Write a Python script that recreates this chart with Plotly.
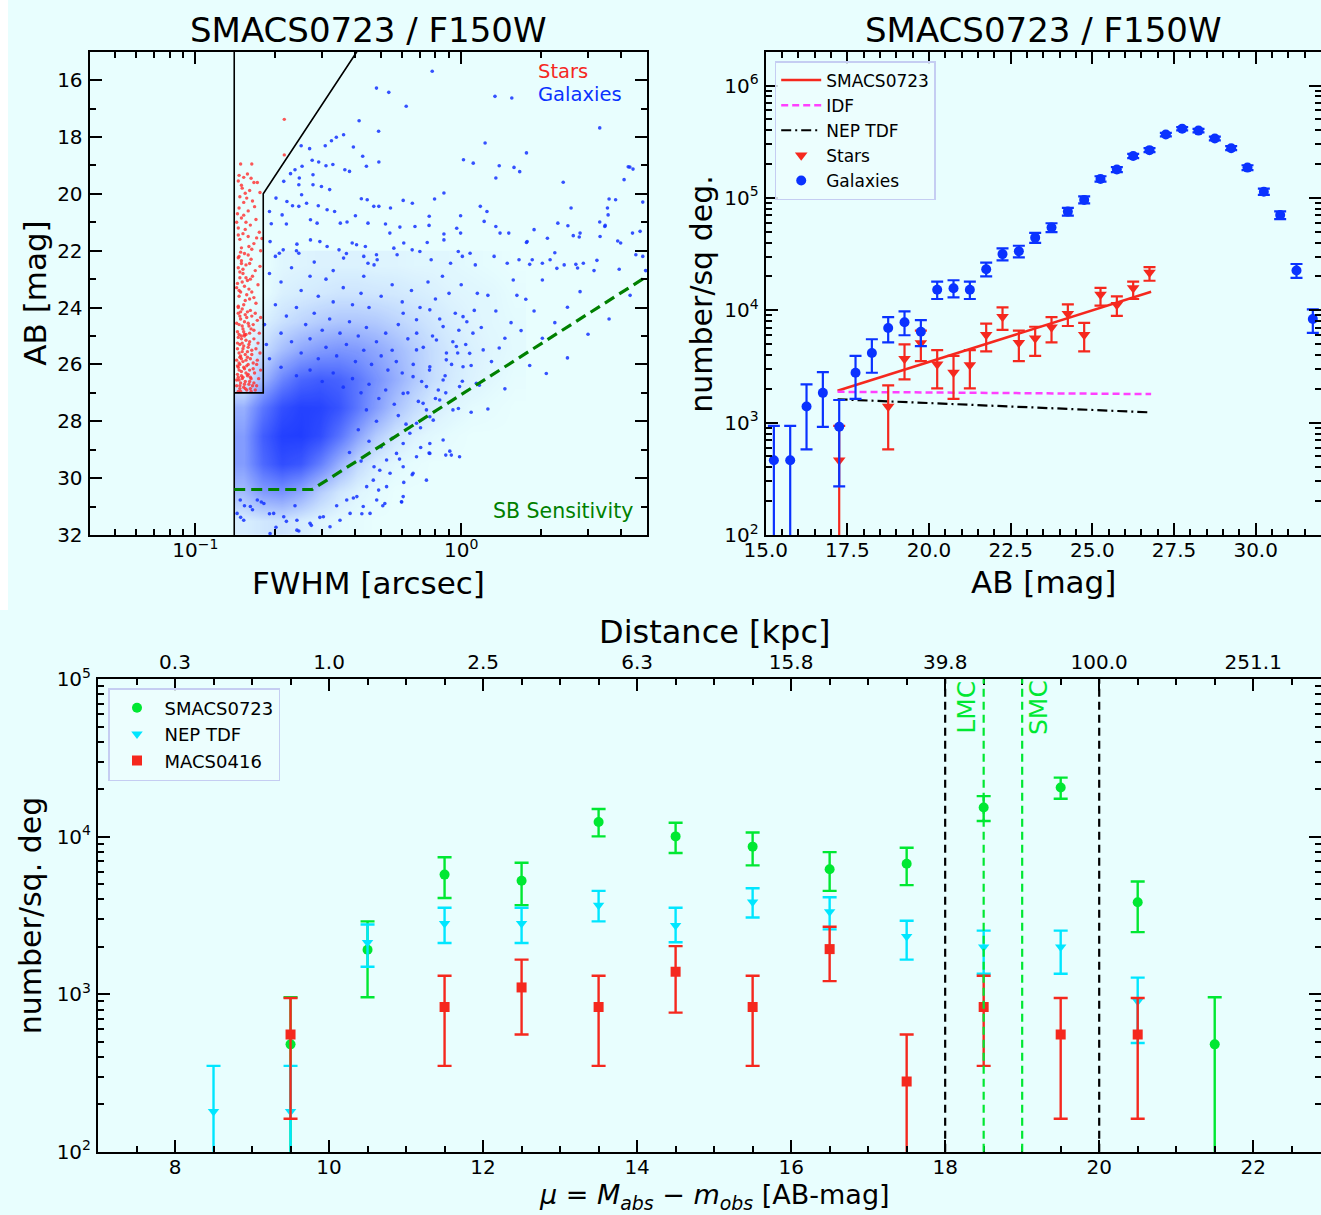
import numpy as np
import plotly.graph_objects as go

W, H = 1321, 1215
BG = "#e8fefe"
FONT = "DejaVu Sans"

# ---------------- Panel 1: FWHM vs AB mag ----------------
gal_pts = [
    (0.778,15.69),(0.48,16.28),(0.534,16.43),(0.621,16.92),(1.34,16.57),(1.55,16.63),(0.413,17.43),(0.489,17.80),
    (3.32,17.68),(0.361,17.92),(0.339,18.01),(0.325,18.13),(0.25,18.31),(0.269,18.41),(0.308,18.31),(0.393,18.35),
    (1.23,18.21),(1.76,18.56),(0.275,18.82),(0.291,18.88),(0.31,19.01),(0.329,18.97),(0.426,18.68),(0.49,18.88),
    (1.02,18.8),(1.11,18.92),(1.39,19.01),(1.58,19.07),(1.66,19.22),(4.31,19.06),(4.43,19.13),(0.252,19.03),
    (0.237,19.15),(0.228,19.29),(0.215,19.56),(0.246,19.44),(0.277,19.33),(0.365,19.15),(0.38,19.21),(0.44,19.03),
    (1.35,19.44),(2.42,19.59),(4.1,19.5),(0.245,19.68),(0.251,20.03),(0.277,19.68),(0.298,19.74),(0.32,19.85),
    (0.201,20.15),(0.19,20.62),(0.221,20.27),(0.232,20.42),(0.245,20.44),(0.262,20.33),(0.29,20.42),(0.313,20.56),
    (0.334,20.62),(0.212,20.74),(0.421,20.17),(0.443,20.21),(0.469,20.44),(0.49,20.44),(0.542,20.5),(0.605,20.23),
    (0.655,20.33),(0.794,20.18),(0.861,19.97),(1.18,20.44),(1.25,20.62),(0.758,20.79),(0.995,20.77),(2.59,20.5),
    (3.55,20.5),(3.6,20.18),(3.81,20.21),(3.57,20.74),(0.193,21.05),(0.22,21.06),(0.271,20.91),(0.287,21.03),
    (0.351,21.03),(0.372,20.99),(0.4,20.77),(0.446,21.03),(0.519,21.06),(0.539,21.38),(0.588,21.17),(0.67,21.15),
    (0.757,21.11),(0.861,21.41),(0.962,21.21),(0.995,21.38),(1.22,20.97),(1.35,21.15),(1.40,21.38),(1.51,21.38),
    (1.76,21.71),(1.88,21.26),(2.11,21.56),(2.31,21.03),(2.52,21.12),(2.64,21.47),(2.78,21.52),(3.32,20.99),
    (3.47,21.15),(3.33,21.5),(3.98,21.73),(4.71,21.32),(0.191,21.68),(0.207,22.09),(0.214,21.97),(0.241,21.77),
    (0.245,22.09),(0.271,21.62),(0.294,21.68),(0.313,21.85),(0.347,21.97),(0.361,22.26),(0.389,21.73),(0.404,21.79),
    (0.436,21.85),(0.43,22.2),(0.48,22.14),(0.446,22.44),(0.483,22.32),(0.558,21.91),(0.574,22.14),(0.608,21.73),
    (0.654,21.97),(0.699,22.03),(0.745,21.71),(0.771,22.32),(0.861,21.62),(0.912,22.44),(0.975,22.03),(1.01,22.2),
    (1.08,22.09),(1.13,22.5),(1.33,22.2),(1.49,22.44),(1.65,22.32),(1.77,21.68),(1.85,22.32),(2.02,22.44),
    (2.16,22.32),(2.44,22.5),(2.74,22.61),(2.88,22.44),(3.16,22.7),(3.93,22.65),(4.94,22.7),(4.54,22.14),
    (1.26,27.57),(1.39,25.42),(1.54,24.53),(1.75,23.71),(2.02,23.03),(2.29,22.62),(2.7,22.48),(3.24,22.34),
    (3.88,21.66),(4.41,21.38),(4.82,22.2),(3.48,21.11),(2.8,21.38),(2.25,22.07),(1.81,22.48),(1.57,23.03),
    (1.26,23.57),(1.35,24.12),(1.62,23.57),(1.88,24.12),(1.68,24.81),(1.46,25.08),(1.21,25.49),(1.09,26.04),
    (1.01,26.59),(1.17,26.73),(1.30,25.9),(0.875,27.0),(0.976,27.55),(0.785,27.96),(0.704,28.92),(0.757,29.12),
    (0.875,29.19),(0.906,29.05),(0.608,30.15),(0.597,30.84),(0.654,29.88),(0.489,30.42),(0.507,30.97),(0.423,31.25),
    (0.393,30.7),(0.34,30.97),(0.294,31.38),(0.273,31.66),(0.237,30.97),(0.22,31.52),(0.19,31.25),(0.177,30.84),
    (0.164,31.11),(0.153,30.97),(0.148,31.38),(0.245,31.86),(0.201,31.73),(2.09,26.32),(2.51,25.77),(3.0,24.94),
    (3.6,24.4),(4.32,23.57),(2.02,25.08),(1.81,26.04),(2.25,24.53),(2.51,23.99),(2.8,23.44),(1.46,26.86),
    (1.09,27.68),(0.703,28.23),(0.586,29.33),(4.25,19.05),(4.82,20.29),
    (0.19,22.8),(0.21,23.1),(0.23,22.6),(0.25,23.4),(0.27,22.9),(0.29,23.6),(0.31,23.0),(0.33,23.8),
    (0.36,23.3),(0.39,23.9),(0.42,23.5),(0.45,24.0),(0.2,23.9),(0.22,24.3),(0.24,24.0),(0.26,24.6),
    (0.28,24.2),(0.3,24.8),(0.32,24.4),(0.35,24.9),(0.38,24.5),(0.41,25.0),(0.44,24.7),(0.48,25.2),
    (0.52,24.9),(0.55,25.5),(0.5,23.6),(0.55,23.2),(0.6,23.8),(0.65,23.4),(0.7,24.0),(0.75,23.1),
    (0.8,23.7),(0.85,22.9),(0.9,23.5),(0.95,24.2),(1.0,23.2),(1.05,24.5),(0.182,24.6),(0.185,25.3),
    (0.19,25.8),(0.2,22.2),(0.24,22.0),(0.28,22.4),(0.33,22.7),(0.37,22.1),(0.43,22.9),(0.47,22.5),
    (0.605,24.20),(0.679,24.43),(0.762,24.08),(0.855,24.67),(1.016,24.32),(1.107,24.90),(0.959,25.37),(0.807,25.14),
    (0.679,25.49),(0.762,26.08),(0.879,25.84),(1.016,26.08),(1.076,25.61),(1.14,26.66),(0.986,26.78),(0.855,26.55),
    (0.74,26.78),(0.659,26.43),(0.605,27.02),(0.719,27.37),(0.83,27.25),(0.931,27.6),(0.762,27.84),(0.679,28.07),
    (0.641,28.42),(0.605,28.78),(0.571,29.13),(0.524,29.36),(0.494,29.72),(0.467,30.07),(0.441,30.3),(0.54,29.83),
    (0.605,29.6),(0.679,29.25),(0.762,28.78),(0.855,28.66),(0.986,29.25),(0.605,30.65),(0.524,30.3),(0.481,30.77),
    (0.428,31.0),(0.382,31.24),(0.35,31.48),(0.321,31.71),(0.303,31.36),(0.27,31.59),(0.241,31.48),(0.215,31.36),
    (0.197,31.24),(0.181,30.89),(0.171,30.77),(0.161,31.0),(0.152,31.48),(0.1475,30.77),(0.1435,31.24),(0.191,31.95),
    (0.241,31.83),(0.371,30.77),(0.405,30.65),(0.659,29.83),(0.762,29.13),(0.918,29.19),(0.74,30.07),(0.596,30.83),
    (0.454,31.24),(0.516,30.89),
    (0.58,24.6),(0.63,25.1),(0.68,24.9),(0.72,25.4),(0.78,25.0),(0.83,24.4),(0.88,25.6),(0.93,25.2),
    (0.98,24.8),(1.04,25.3),(1.12,24.1),(1.15,23.5),(1.19,24.7),(0.6,26.3),(0.66,26.0),(0.71,26.6),
    (0.76,26.2),(0.82,26.9),(0.87,26.4),(0.92,26.0),(0.97,25.6),(0.63,27.0),(0.69,27.3),(0.74,27.6),
    (0.8,27.2),(0.58,27.8),(0.62,28.1),(0.55,28.6),(0.5,28.9),(0.47,29.6),
    (0.21,24.9),(0.23,25.2),(0.25,25.6),(0.27,25.1),(0.29,25.8),(0.31,25.4),(0.34,25.7),(0.37,25.3),
    (0.4,25.9),(0.43,25.5),(0.46,26.0),(0.5,25.7),(0.53,26.2),(0.57,25.9),(0.21,26.1),(0.24,26.4),
    (0.27,26.2),(0.3,26.6),(0.33,26.3),(0.36,26.8),(0.39,26.5),(0.42,27.0),(0.45,26.7),(0.49,27.2),
    (0.52,26.9),(0.56,27.4),(0.44,27.6),(0.48,28.0),(0.41,28.3),(0.45,28.7),(0.38,29.1),(0.42,29.4),
]
gal_fwhm = [p[0] for p in gal_pts]
gal_mag = [p[1] for p in gal_pts]

star_pts = [
    (0.148,18.95),(0.163,18.95),(0.146,19.35),(0.152,19.42),(0.157,19.3),(0.166,19.6),(0.149,19.7),(0.145,19.55),
    (0.16,19.88),(0.171,19.6),(0.154,19.98),(0.147,20.1),(0.175,19.95),(0.162,19.45),(0.15,19.8),
    (0.152,20.3),(0.146,20.5),(0.158,20.6),(0.164,20.25),(0.149,20.85),(0.155,21.0),(0.145,21.2),(0.161,21.1),
    (0.169,20.9),(0.151,21.4),(0.147,21.6),(0.158,21.5),(0.166,21.75),(0.149,21.9),(0.154,21.25),(0.174,21.35),
    (0.144,20.7),(0.163,21.95),(0.148,22.05),(0.156,20.15),(0.17,21.55),(0.159,21.85),(0.145,21.45),(0.152,20.75),
    (0.167,20.45),(0.143,21.0),(0.176,22.0),(0.153,22.1),(0.146,22.2),(0.162,22.3),
    (0.149,22.35),(0.155,22.5),(0.145,22.6),(0.16,22.45),(0.168,22.7),(0.151,22.8),(0.147,22.95),(0.157,23.05),
    (0.164,22.9),(0.144,23.15),(0.153,23.25),(0.159,23.35),(0.148,23.45),(0.172,23.2),(0.146,23.6),(0.156,23.55),
    (0.166,23.65),(0.151,22.65),(0.145,22.25),(0.161,23.0),(0.15,23.1),(0.154,23.75),(0.143,23.3),(0.175,22.55),
    (0.158,22.15),(0.147,22.75),(0.163,23.45),(0.152,23.9),(0.169,23.85),(0.145,23.95),(0.149,22.45),(0.16,23.7),
    (0.155,22.95),(0.146,23.4),
    (0.15,24.05),(0.157,24.15),(0.145,24.2),(0.163,24.3),(0.148,24.4),(0.153,24.5),(0.171,24.45),(0.146,24.6),
    (0.159,24.65),(0.151,24.75),(0.144,24.85),(0.166,24.8),(0.155,24.95),(0.149,25.0),(0.161,24.1),(0.147,24.3),
    (0.154,24.25),(0.174,24.9),(0.158,24.55),(0.143,24.55),(0.152,24.85),(0.168,24.2),(0.146,24.95),(0.16,24.9),
    (0.15,24.65),(0.156,24.35),(0.165,24.6),(0.145,24.0),(0.162,24.75),(0.148,24.15),(0.176,24.35),(0.153,24.95),
    (0.145,25.05),(0.149,25.1),(0.155,25.15),(0.16,25.2),(0.166,25.1),(0.172,25.25),(0.147,25.3),(0.152,25.35),
    (0.158,25.4),(0.144,25.45),(0.163,25.5),(0.15,25.55),(0.169,25.45),(0.146,25.6),(0.154,25.65),(0.175,25.6),
    (0.148,25.7),(0.157,25.75),(0.161,25.8),(0.143,25.85),(0.151,25.9),(0.165,25.95),(0.147,26.0),(0.156,26.05),
    (0.17,26.0),(0.145,26.1),(0.153,26.15),(0.16,26.2),(0.149,26.25),(0.167,26.3),(0.144,26.35),(0.157,26.4),
    (0.151,26.45),(0.162,26.5),(0.146,26.55),(0.173,26.5),(0.154,26.6),(0.148,26.65),(0.159,26.7),(0.143,26.75),
    (0.164,26.75),(0.152,26.8),(0.147,26.85),(0.156,26.9),(0.161,26.85),(0.145,26.95),(0.168,26.9),(0.15,26.5),
    (0.155,26.3),(0.146,26.2),(0.158,26.0),(0.149,25.8),(0.163,25.65),(0.144,25.25),(0.153,25.0),(0.171,25.85),
    (0.147,26.75),(0.16,26.6),(0.152,26.1),(0.166,26.65),(0.145,26.45),(0.157,25.55),(0.15,25.25),(0.176,26.2),
    (0.148,26.95),(0.154,26.85),(0.162,26.95),(0.143,26.55),(0.151,25.45),(0.158,26.35),(0.146,25.95),(0.165,26.15),
    (0.149,26.4),(0.155,25.85),(0.17,26.75),(0.153,26.7),(0.144,26.05),(0.159,25.3),(0.147,25.75),(0.161,26.45),
    (0.216,17.38),(0.216,18.63),(0.178,21.57),
]
star_fwhm = [p[0] for p in star_pts]
star_mag = [p[1] for p in star_pts]

# estimated galaxy density (fraction of area covered) read from the dense core
dens_fwhm_edges = [0.14, 0.165, 0.195, 0.23, 0.27, 0.32, 0.375, 0.44, 0.52, 0.61, 0.72, 0.85, 1.0, 1.2, 1.45, 1.75]
dens_mag_edges = [22, 23, 24, 25, 26, 27, 28, 29, 30, 31, 32]
dens_grid = [
    [0, 0, 0.04, 0.05, 0.06, 0.06, 0.06, 0.05, 0.05, 0.04, 0.04, 0.03, 0.02, 0.01, 0],
    [0, 0, 0.07, 0.09, 0.11, 0.13, 0.13, 0.12, 0.11, 0.09, 0.07, 0.05, 0.04, 0.03, 0.01],
    [0, 0.07, 0.15, 0.21, 0.26, 0.29, 0.29, 0.27, 0.22, 0.17, 0.12, 0.08, 0.05, 0.03, 0.02],
    [0, 0.17, 0.33, 0.45, 0.52, 0.55, 0.52, 0.45, 0.36, 0.26, 0.17, 0.11, 0.07, 0.04, 0.02],
    [0, 0.36, 0.62, 0.78, 0.83, 0.80, 0.70, 0.56, 0.42, 0.28, 0.17, 0.10, 0.06, 0.03, 0.01],
    [0.40, 0.70, 0.90, 0.97, 0.96, 0.88, 0.70, 0.50, 0.31, 0.18, 0.09, 0.05, 0.02, 0.01, 0],
    [0.50, 0.83, 0.98, 0.99, 0.92, 0.72, 0.47, 0.26, 0.13, 0.06, 0.03, 0.01, 0, 0, 0],
    [0.50, 0.77, 0.91, 0.86, 0.66, 0.40, 0.19, 0.08, 0.03, 0.01, 0, 0, 0, 0, 0],
    [0.34, 0.50, 0.55, 0.44, 0.25, 0.12, 0.05, 0.02, 0, 0, 0, 0, 0, 0, 0],
    [0.08, 0.12, 0.14, 0.09, 0.05, 0.02, 0.01, 0, 0, 0, 0, 0, 0, 0, 0],
]

cut_fwhm = [0.14, 0.14]
cut_mag = [15, 32]
box_fwhm = [0.14, 0.18, 0.18, 0.405]
box_mag = [27, 27, 20, 15]
sb_fwhm = [0.14, 0.275, 5.0]
sb_mag = [30.4, 30.4, 22.9]

# ---------------- Panel 2: number counts ----------------
cnt_gal_mag = [15.25,15.75,16.25,16.75,17.25,17.75,18.25,18.75,19.25,19.75,20.25,20.75,21.25,21.75,22.25,22.75,
               23.25,23.75,24.25,24.75,25.25,25.75,26.25,26.75,27.25,27.75,28.25,28.75,29.25,29.75,30.25,30.75,31.25,31.75]
cnt_gal_val = [462,462,1390,1840,918,2780,4170,6950,7830,6430,15200,15700,15200,23200,31600,33500,
               44300,54500,75500,96000,147600,178700,236000,266000,366000,413000,397000,338000,277000,186000,113500,70300,22600,8360]
cnt_gal_lo = [0,0,577,918,271,1630,2780,5175,5990,4790,12600,13000,12600,20000,27800,29600,
              39800,49500,69500,89500,139500,169800,225500,255000,353000,399000,383000,325500,265700,176700,106300,64600,19400,6300]
cnt_gal_hi = [935,935,2190,2810,1590,3920,5520,8690,9790,8170,18000,18500,18000,26500,35500,37500,
              48800,59500,81500,103000,155800,187700,246500,277000,379000,427000,411000,350500,288300,195300,120700,76000,25800,10200]

cnt_star_mag = [17.25,18.75,19.25,19.75,20.25,20.75,21.25,21.75,22.25,22.75,23.25,23.75,24.25,24.75,25.25,25.75,26.25,26.75]
cnt_star_val = [462,1390,3700,5100,3300,2800,3260,6050,8750,5150,5650,7050,9300,6050,13800,11200,15800,21700]
cnt_star_lo = [0,578,2430,3530,2020,1630,2020,4315,6680,3530,3920,5175,7240,4315,11000,8910,12600,18300]
cnt_star_hi = [935,2150,4980,6580,4420,3920,4420,7590,10620,6580,7130,8690,11300,7710,15800,13300,18000,24200]

fit_mag = [17.2, 26.8]
fit_smacs = [1920, 14600]
fit_idf = [1880, 1795]
fit_nep = [1615, 1233]

# ---------------- Panel 3: distance modulus distribution ----------------
mu_smacs = [9.5,10.5,11.5,12.5,13.5,14.5,15.5,16.5,17.5,18.5,19.5,20.5,21.5]
val_smacs = [481,1915,5750,5250,12400,10050,8650,6210,6730,15350,20550,3840,481]
lo_smacs = [0,957,4085,3680,10050,7890,6580,4530,4930,12590,17420,2480,0]
hi_smacs = [957,2900,7410,6840,15000,12270,10640,7980,8510,18110,23710,5200,957]

mu_nep = [8.5,9.5,10.5,11.5,12.5,13.5,14.5,15.5,16.5,17.5,18.5,19.5,20.5]
val_nep = [180,180,2135,2810,2810,3680,2735,3855,3340,2330,1995,1995,904]
lo_nep = [0,0,1496,2115,2115,2900,2140,3070,2580,1660,1350,1350,490]
hi_nep = [351,351,2770,3540,3540,4530,3540,4710,4130,2930,2535,2535,1276]

mu_macs = [9.5,11.5,12.5,13.5,14.5,15.5,16.5,17.5,18.5,19.5,20.5]
val_macs = [556,830,1105,830,1390,830,1935,279,830,556,556]
lo_macs = [162,351,556,351,765,351,1211,0,351,162,162]
hi_macs = [946,1312,1660,1312,2020,1312,2685,556,1312,946,946]

mu_ticks = [8, 10, 12, 14, 16, 18, 20, 22]
dist_labels = ["0.3", "1.0", "2.5", "6.3", "15.8", "39.8", "100.0", "251.1"]
mu_lines_black = [18, 20]
mu_lines_green = [18.5, 19.0]

# ---------------- colours ----------------
C_BLUE = "#0a32ff"
C_RED = "#f5281e"
C_GREEN = "#00e832"
C_CYAN = "#00e6ff"
C_MAG = "#ff40ff"
C_SB = "#008000"


def px(x):
    return x / W


def py(y):
    return 1 - y / H


def errs(val, lo, hi):
    v = np.array(val, float)
    lo = np.maximum(np.array(lo, float), 1.0)
    return dict(type="data", symmetric=False, array=list(np.array(hi, float) - v),
                arrayminus=list(v - lo))


fig = go.Figure()

# panel 1
fig.add_trace(go.Heatmap(x=dens_fwhm_edges, y=dens_mag_edges, z=dens_grid, xaxis="x", yaxis="y",
                         zsmooth="best", zmin=0, zmax=1, showscale=False, hoverinfo="skip",
                         colorscale=[[0, "rgba(15,45,255,0)"], [1, "rgba(15,45,255,0.93)"]]))
fig.add_trace(go.Scatter(x=gal_fwhm, y=gal_mag, mode="markers", xaxis="x", yaxis="y", showlegend=False,
                         marker=dict(size=3.6, color="rgba(20,50,255,0.85)", line=dict(width=0))))
fig.add_trace(go.Scatter(x=star_fwhm, y=star_mag, mode="markers", xaxis="x", yaxis="y", showlegend=False,
                         marker=dict(size=3.4, color="rgba(255,45,45,0.8)", line=dict(width=0))))
fig.add_trace(go.Scatter(x=cut_fwhm, y=cut_mag, mode="lines", xaxis="x", yaxis="y", showlegend=False,
                         line=dict(color="black", width=1.6)))
fig.add_trace(go.Scatter(x=box_fwhm, y=box_mag, mode="lines", xaxis="x", yaxis="y", showlegend=False,
                         line=dict(color="black", width=1.6)))
fig.add_trace(go.Scatter(x=sb_fwhm, y=sb_mag, mode="lines", xaxis="x", yaxis="y", showlegend=False,
                         line=dict(color=C_SB, width=3.2, dash="11px,6px")))

# panel 2
fig.add_trace(go.Scatter(x=fit_mag, y=fit_smacs, mode="lines", xaxis="x2", yaxis="y2", name="SMACS0723",
                         legend="legend", line=dict(color=C_RED, width=2.5)))
fig.add_trace(go.Scatter(x=fit_mag, y=fit_idf, mode="lines", xaxis="x2", yaxis="y2", name="IDF",
                         legend="legend", line=dict(color=C_MAG, width=2.5, dash="7px,4px")))
fig.add_trace(go.Scatter(x=fit_mag, y=fit_nep, mode="lines", xaxis="x2", yaxis="y2", name="NEP TDF",
                         legend="legend", line=dict(color="black", width=2.2, dash="10px,4px,2px,4px")))
fig.add_trace(go.Scatter(x=cnt_star_mag, y=cnt_star_val, mode="markers", xaxis="x2", yaxis="y2", name="Stars",
                         legend="legend", marker=dict(symbol="triangle-down", size=11, color=C_RED),
                         error_y=dict(**errs(cnt_star_val, cnt_star_lo, cnt_star_hi), color=C_RED,
                                      thickness=2.2, width=6)))
fig.add_trace(go.Scatter(x=cnt_gal_mag, y=cnt_gal_val, mode="markers", xaxis="x2", yaxis="y2", name="Galaxies",
                         legend="legend", marker=dict(symbol="circle", size=10, color=C_BLUE),
                         error_y=dict(**errs(cnt_gal_val, cnt_gal_lo, cnt_gal_hi), color=C_BLUE,
                                      thickness=2.2, width=6)))

# panel 3
fig.add_trace(go.Scatter(x=mu_smacs, y=val_smacs, mode="markers", xaxis="x3", yaxis="y3", name="SMACS0723",
                         legend="legend2", marker=dict(symbol="circle", size=10, color=C_GREEN),
                         error_y=dict(**errs(val_smacs, lo_smacs, hi_smacs), color=C_GREEN, thickness=2.4, width=7)))
fig.add_trace(go.Scatter(x=mu_nep, y=val_nep, mode="markers", xaxis="x3", yaxis="y3", name="NEP TDF",
                         legend="legend2", marker=dict(symbol="triangle-down", size=10, color=C_CYAN),
                         error_y=dict(**errs(val_nep, lo_nep, hi_nep), color=C_CYAN, thickness=2.4, width=7)))
fig.add_trace(go.Scatter(x=mu_macs, y=val_macs, mode="markers", xaxis="x3", yaxis="y3", name="MACS0416",
                         legend="legend2", marker=dict(symbol="square", size=10, color=C_RED),
                         error_y=dict(**errs(val_macs, lo_macs, hi_macs), color=C_RED, thickness=2.4, width=7)))
# carrier for the top (distance) axis of the bottom panel
fig.add_trace(go.Scatter(x=mu_ticks, y=[None] * len(mu_ticks), mode="lines", xaxis="x4", yaxis="y3",
                         showlegend=False, hoverinfo="skip"))

shapes = [dict(type="rect", xref="paper", yref="paper", x0=0, x1=px(8), y0=py(610), y1=1,
               fillcolor="white", line=dict(width=0), layer="below")]
for m in mu_lines_black:
    shapes.append(dict(type="line", xref="x3", yref="y3 domain", x0=m, x1=m, y0=0, y1=1,
                       line=dict(color="black", width=2.2, dash="8px,5px")))
for m in mu_lines_green:
    shapes.append(dict(type="line", xref="x3", yref="y3 domain", x0=m, x1=m, y0=0, y1=1,
                       line=dict(color=C_GREEN, width=2.2, dash="8px,5px")))

TICKFONT = dict(family=FONT, size=20, color="black")


def axstyle(standoff, **kw):
    d = dict(showline=True, linecolor="black", linewidth=2, mirror="ticks", ticks="inside",
             ticklen=12, tickwidth=2, tickcolor="black", showgrid=False, zeroline=False,
             tickfont=TICKFONT, ticklabelstandoff=standoff)
    d.update(kw)
    return d


def minor(vals):
    return dict(ticks="inside", ticklen=6, tickwidth=1.6, tickcolor="black", tickvals=vals, showgrid=False)


log_minor_1 = [v * 10.0 ** e for e in (-2, -1, 0) for v in range(2, 10) if 0.04 <= v * 10.0 ** e <= 5]
dec_minor_2 = [v * 10.0 ** e for e in range(2, 7) for v in range(2, 10)]
dec_minor_3 = [v * 10.0 ** e for e in range(2, 5) for v in range(2, 10)]

XS, YS = -4, 1

layout = dict(
    width=W, height=H, margin=dict(l=0, r=0, t=0, b=0, pad=0, autoexpand=False),
    paper_bgcolor=BG, plot_bgcolor="rgba(0,0,0,0)",
    font=dict(family=FONT, color="black"),
    shapes=shapes,
    xaxis=axstyle(XS, type="log", range=[np.log10(0.04), np.log10(5)], domain=[px(89.6), px(647)], anchor="y",
                  tickvals=[0.1, 1], ticktext=["10<sup>\u22121</sup>", "10<sup>0</sup>"],
                  minor=minor(log_minor_1)),
    yaxis=axstyle(YS, range=[32, 15], domain=[py(535), py(51.7)], anchor="x",
                  tickvals=list(range(16, 33, 2)), minor=minor(list(range(15, 33, 2)))),
    xaxis2=axstyle(XS, range=[15, 32], domain=[px(765.7), 1], anchor="y2",
                   tickvals=[15, 17.5, 20, 22.5, 25, 27.5, 30],
                   ticktext=["15.0", "17.5", "20.0", "22.5", "25.0", "27.5", "30.0"],
                   minor=minor([15 + 0.5 * i for i in range(35)])),
    yaxis2=axstyle(YS, type="log", range=[2, np.log10(2e6)], domain=[py(535), py(51.7)], anchor="x2",
                   tickvals=[1e2, 1e3, 1e4, 1e5, 1e6],
                   ticktext=["10<sup>2</sup>", "10<sup>3</sup>", "10<sup>4</sup>", "10<sup>5</sup>", "10<sup>6</sup>"],
                   minor=minor(dec_minor_2)),
    xaxis3=axstyle(XS, range=[7, 22.88], domain=[px(98), 1], anchor="y3",
                   tickvals=mu_ticks, minor=minor([7 + 0.5 * i for i in range(32)])),
    yaxis3=axstyle(YS, type="log", range=[2, 5], domain=[py(1151.8), py(679.2)], anchor="x3",
                   tickvals=[1e2, 1e3, 1e4, 1e5],
                   ticktext=["10<sup>2</sup>", "10<sup>3</sup>", "10<sup>4</sup>", "10<sup>5</sup>"],
                   minor=minor(dec_minor_3)),
    xaxis4=dict(overlaying="x3", anchor="y3", side="top", range=[7, 22.88], tickmode="array",
                tickvals=mu_ticks, ticktext=dist_labels, showline=False, showgrid=False, zeroline=False,
                ticks="outside", ticklen=1, tickcolor="rgba(0,0,0,0)", tickfont=TICKFONT),
    legend=dict(x=px(774.7), y=py(61), xanchor="left", yanchor="top", bgcolor="rgba(236,254,254,0.85)",
                bordercolor="#c5cdf2", borderwidth=1.5, font=dict(family=FONT, size=17, color="black"),
                tracegroupgap=0, itemwidth=40),
    legend2=dict(x=px(108), y=py(688), xanchor="left", yanchor="top", bgcolor="rgba(236,254,254,0.85)",
                 bordercolor="#c5cdf2", borderwidth=1.5, font=dict(family=FONT, size=18, color="black"),
                 tracegroupgap=0, itemwidth=45),
)


def ann(text, x, y, size, color="black", angle=0, xanchor="center"):
    return dict(text=text, x=px(x), y=py(y), xref="paper", yref="paper", showarrow=False,
                xanchor=xanchor, yanchor="middle", textangle=angle,
                font=dict(family=FONT, size=size, color=color))


annotations = [
    ann("SMACS0723 / F150W", 368, 30, 34),
    ann("SMACS0723 / F150W", 1043.4, 30, 34),
    ann("AB [mag]", 34.7, 293, 31, angle=-90),
    ann("FWHM [arcsec]", 368, 582.5, 31),
    ann("number/sq deg.", 702, 294.7, 30, angle=-90),
    ann("AB [mag]", 1043.4, 582, 31),
    ann("Distance [kpc]", 715, 631.5, 32),
    ann("number/sq. deg", 30.5, 915.7, 30, angle=-90),
    ann("<i>\u03bc</i> = <i>M</i><sub><i>abs</i></sub> \u2212 <i>m</i><sub><i>obs</i></sub> [AB-mag]",
        714, 1196, 27),
    ann("Stars", 535.8, 72, 19.5, color=C_RED, xanchor="left"),
    ann("Galaxies", 535.8, 95, 19.5, color=C_BLUE, xanchor="left"),
    ann("SB Sensitivity", 563.4, 510.9, 20.5, color=C_SB),
    ann("LMC", 965.7, 707, 25, color=C_GREEN, angle=-90),
    ann("SMC", 1038, 708, 25, color=C_GREEN, angle=-90),
]
layout["annotations"] = annotations

fig.update_layout(**layout)
fig.write_html("out.html", config={"displayModeBar": False},
               post_script="document.body.style.margin='0';document.body.style.overflow='hidden';")
